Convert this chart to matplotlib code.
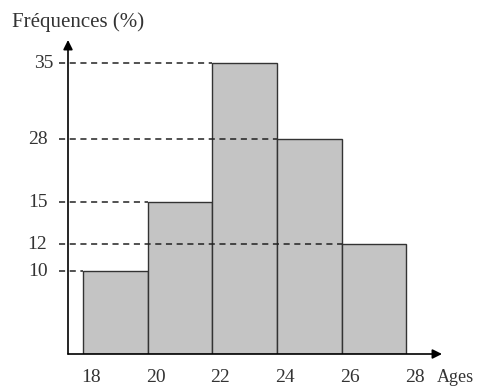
import matplotlib.pyplot as plt
import numpy as np

# classes d'ages et frequences (%)
bornes = [18, 20, 22, 24, 26, 28]
freqs = [10, 15, 35, 28, 12]
ytick_vals = [35, 28, 15, 12, 10]

plt.rcParams['font.family'] = ['Liberation Serif', 'DejaVu Serif']

# l'echelle verticale du dessin original n'est pas lineaire
ancres_val = [0, 10, 12, 15, 28, 35, 45]
ancres_px = [0, 83, 110, 152, 215, 291, 400]

def fwd(v):
    return np.interp(v, ancres_val, ancres_px)

def inv(p):
    return np.interp(p, ancres_px, ancres_val)

fig = plt.figure(figsize=(4.78, 3.92), dpi=100)
ax = fig.add_axes([68 / 478, 38 / 392, 374 / 478, 314 / 392])
ax.set_yscale('function', functions=(fwd, inv))

largeurs = np.diff(bornes)
ax.bar(bornes[:-1], freqs, width=largeurs, align='edge',
       color='#c4c4c4', edgecolor='#333333', linewidth=1.0, zorder=2)

ax.set_xlim(17.54, 29.1)
ax.set_ylim(0, inv(314))

# pointilles depuis l'axe jusqu'au bord gauche de la barre
for g, f in zip(bornes[:-1], freqs):
    ax.hlines(f, 17.27, g, colors='#222222', linestyles=(0, (4, 3)),
              linewidth=1.1, clip_on=False, zorder=3)

for v in ytick_vals:
    dx = -0.04 if v == 35 else -0.055
    ax.text(dx, v, str(v), transform=ax.get_yaxis_transform(),
            ha='right', va='center', fontsize=14, color='#333333')

for b in bornes:
    ax.text(b + 0.25, -0.075, str(b), transform=ax.get_xaxis_transform(),
            ha='center', va='center', fontsize=14, color='#333333')

ax.text(0.985, -0.075, 'Ages', transform=ax.transAxes, ha='left', va='center',
        fontsize=13, color='#333333')
fig.text(12 / 478, 1 - 22 / 392, 'Fréquences (%)', ha='left', va='center',
         fontsize=15, color='#333333')

# axes avec fleches
for s in ax.spines.values():
    s.set_visible(False)
ax.set_xticks([])
ax.set_yticks([])
ax.yaxis.set_minor_locator(plt.NullLocator())
ax.annotate('', xy=(0, 1.0), xytext=(0, 0), xycoords='axes fraction',
            arrowprops=dict(arrowstyle='-|>', color='black', lw=1.2,
                            mutation_scale=14, shrinkA=0, shrinkB=0))
ax.annotate('', xy=(1.0, 0), xytext=(0, 0), xycoords='axes fraction',
            arrowprops=dict(arrowstyle='-|>', color='black', lw=1.2,
                            mutation_scale=14, shrinkA=0, shrinkB=0))

fig.savefig('out.png', dpi=100)
